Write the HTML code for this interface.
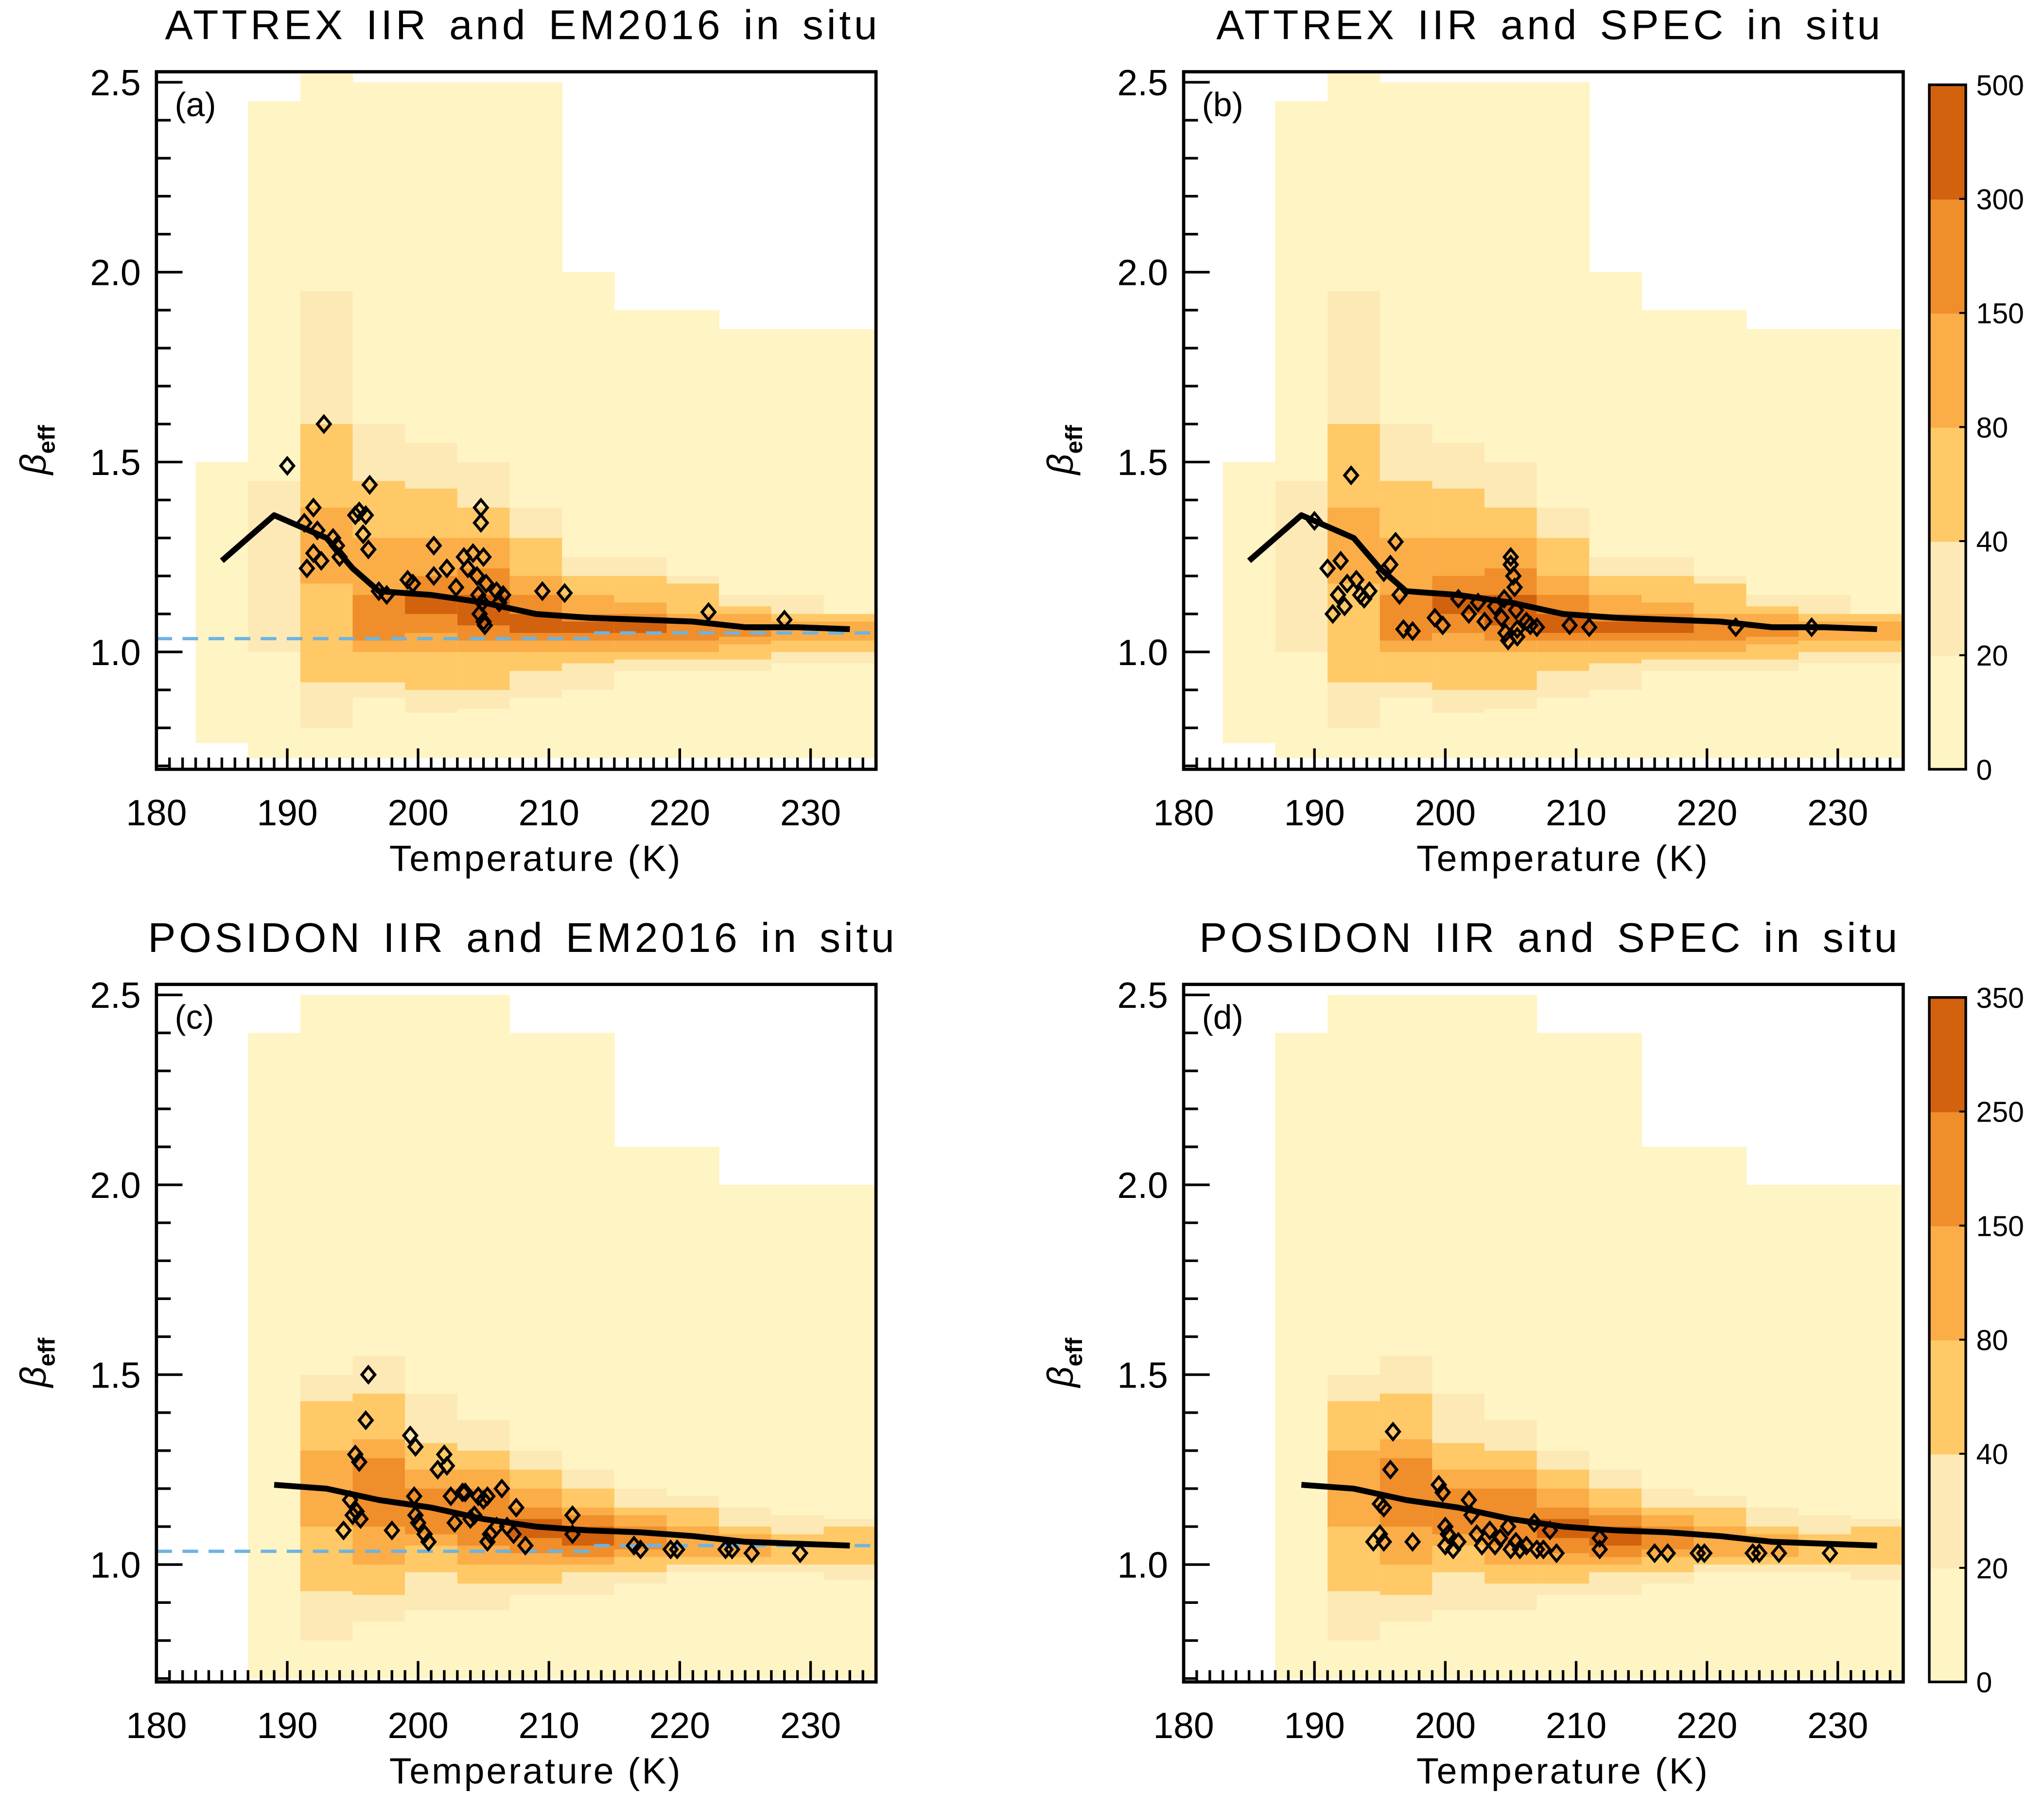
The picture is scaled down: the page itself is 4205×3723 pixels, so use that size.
<!DOCTYPE html>
<html><head><meta charset="utf-8">
<style>
html,body{margin:0;padding:0;background:#fff;}
svg{display:block;font-family:"Liberation Sans",sans-serif;}
</style></head>
<body>
<svg id="fig" xmlns="http://www.w3.org/2000/svg" width="4205" height="3723" viewBox="0 0 1568 1388.2"></svg>
<script>
// ---- data ----
const levelColors = ["#fff4c4","#fde9b6","#fec966","#fbad48","#ef8e2a","#d2620e"];
const binStarts = [183,187,191,195,199,203,207,211,215,219,223,227,231];
const heatA = [
 [[0.76,1.5]],
 [[0.72,2.45],[1.0,1.45]],
 [[0.72,2.53],[0.8,1.95],[0.92,1.6],[1.18,1.38]],
 [[0.72,2.5],[0.88,1.6],[0.92,1.45],[1.0,1.3],[1.03,1.15]],
 [[0.72,2.5],[0.84,1.55],[0.9,1.43],[1.0,1.3],[1.05,1.2],[1.1,1.15]],
 [[0.72,2.5],[0.85,1.5],[0.9,1.38],[1.0,1.3],[1.03,1.22],[1.07,1.15]],
 [[0.72,2.5],[0.88,1.38],[0.95,1.3],[1.0,1.2],[1.03,1.15],[1.05,1.1]],
 [[0.72,2.0],[0.9,1.25],[0.97,1.2],[1.0,1.15],[1.03,1.1],[1.05,1.08]],
 [[0.72,1.9],[0.95,1.25],[0.98,1.2],[1.0,1.13],[1.03,1.1],[1.05,1.08]],
 [[0.72,1.9],[0.95,1.2],[0.98,1.18],[1.0,1.1],[1.03,1.08]],
 [[0.72,1.85],[0.95,1.15],[0.98,1.12],[1.02,1.1],[1.04,1.07]],
 [[0.72,1.85],[0.97,1.15],[1.0,1.1],[1.03,1.08]],
 [[0.72,1.85],[0.97,1.1],[1.0,1.1],[1.03,1.08]]
];
const heatC = [
 [],
 [[0.7,2.4]],
 [[0.7,2.5],[0.8,1.5],[0.93,1.43],[1.1,1.3]],
 [[0.7,2.5],[0.85,1.55],[0.92,1.45],[1.0,1.33],[1.1,1.28]],
 [[0.7,2.5],[0.88,1.45],[0.98,1.32],[1.05,1.25],[1.08,1.2]],
 [[0.7,2.5],[0.88,1.38],[0.95,1.3],[1.0,1.25],[1.05,1.2]],
 [[0.7,2.4],[0.92,1.3],[0.95,1.25],[1.0,1.2],[1.03,1.15],[1.07,1.12]],
 [[0.7,2.4],[0.92,1.25],[0.98,1.2],[1.0,1.15],[1.02,1.13],[1.05,1.1]],
 [[0.7,2.1],[0.95,1.2],[0.98,1.15],[1.02,1.13],[1.04,1.1]],
 [[0.7,2.1],[0.98,1.18],[1.0,1.15],[1.02,1.1]],
 [[0.7,2.0],[0.98,1.15],[1.0,1.1],[1.02,1.08]],
 [[0.7,2.0],[0.98,1.13],[1.0,1.08]],
 [[0.7,2.0],[0.96,1.12],[1.0,1.1]]
];
const lineTop = [[185,1.24],[189,1.36],[191,1.33],[193,1.3],[195,1.22],[197,1.16],[201,1.15],[205,1.13],[209,1.1],[213,1.09],[217,1.085],[221,1.08],[225,1.065],[229,1.065],[233,1.06]];
const lineBot = [[189,1.21],[193,1.2],[197,1.17],[201,1.15],[205,1.12],[209,1.1],[213,1.09],[217,1.085],[221,1.075],[225,1.06],[229,1.055],[233,1.05]];
const dashedRef = [[180,1.035],[213,1.035],[213,1.05],[235,1.05]];
const ptsA = [[190,1.49],[192.8,1.6],[191.3,1.34],[192,1.38],[192.3,1.32],[191.5,1.22],[192,1.26],[192.6,1.24],[193.5,1.3],[193.8,1.28],[194,1.25],[195.2,1.36],[195.5,1.37],[195.8,1.31],[196,1.36],[196.3,1.44],[196.2,1.27],[197,1.16],[197.6,1.15],[199.2,1.19],[199.6,1.18],[201.2,1.28],[201.2,1.2],[202.2,1.22],[202.9,1.17],[203.5,1.25],[203.8,1.22],[204.2,1.26],[204.8,1.38],[204.8,1.34],[205,1.25],[204.5,1.2],[204.6,1.15],[204.7,1.1],[205,1.08],[205.1,1.07],[204.9,1.13],[205.2,1.18],[206,1.16],[206.5,1.15],[206.2,1.13],[209.5,1.16],[211.2,1.155],[222.2,1.105],[228,1.085]];
const ptsB = [[190,1.345],[192.8,1.465],[191,1.22],[191.4,1.1],[191.8,1.15],[192,1.24],[192.3,1.12],[192.5,1.18],[193.2,1.19],[193.5,1.15],[193.8,1.14],[194.2,1.16],[195.3,1.21],[195.8,1.23],[196.2,1.29],[196.5,1.15],[196.8,1.06],[197.5,1.055],[199.2,1.09],[199.8,1.07],[201,1.14],[201.8,1.1],[202.5,1.13],[203,1.08],[203.8,1.12],[204.3,1.09],[204.5,1.14],[204.6,1.05],[204.8,1.03],[205,1.25],[205,1.23],[205.2,1.2],[205.3,1.17],[205.4,1.11],[205.5,1.06],[205.5,1.04],[206.2,1.08],[206.5,1.07],[207,1.065],[209.5,1.07],[211,1.065],[222.2,1.065],[228,1.065]];
const ptsC = [[196.2,1.5],[196,1.38],[195.2,1.29],[195.5,1.27],[194.3,1.09],[194.8,1.17],[195,1.13],[195.3,1.14],[195.6,1.12],[198,1.09],[199.4,1.34],[199.8,1.31],[199.7,1.18],[199.8,1.13],[200,1.11],[200.5,1.08],[200.8,1.06],[201.5,1.25],[202,1.29],[202.2,1.26],[202.5,1.18],[202.8,1.11],[203.4,1.19],[203.6,1.19],[204,1.12],[204.3,1.13],[204.6,1.18],[205,1.17],[205.3,1.18],[205.5,1.08],[205.3,1.06],[206,1.1],[206.4,1.2],[206.8,1.1],[207.3,1.08],[207.5,1.15],[208.2,1.05],[211.8,1.13],[211.8,1.08],[216.5,1.05],[217,1.04],[219.3,1.04],[219.8,1.04],[223.5,1.04],[224,1.04],[225.5,1.03],[229.2,1.03]];
const ptsD = [[196,1.35],[195.8,1.25],[195,1.16],[195.3,1.15],[194.5,1.06],[195,1.08],[195.3,1.06],[197.5,1.06],[199.5,1.21],[199.8,1.19],[200,1.1],[200.2,1.08],[200,1.05],[200.6,1.04],[201,1.06],[201.8,1.17],[202,1.13],[202.4,1.08],[202.8,1.05],[203.4,1.09],[203.8,1.05],[204.2,1.07],[204.8,1.1],[205,1.04],[205.4,1.06],[205.7,1.04],[206.2,1.05],[206.8,1.11],[207,1.04],[207.5,1.04],[208,1.09],[208.5,1.03],[211.8,1.07],[211.8,1.04],[216,1.03],[217,1.03],[219.3,1.03],[219.8,1.03],[223.5,1.03],[224,1.03],[225.5,1.03],[229.4,1.03]];
const xTickLabels = [180,190,200,210,220,230];
const yTickLabels = ["1.0","1.5","2.0","2.5"];
const cbLabelsTop = ["0","20","40","80","150","300","500"];
const cbLabelsBot = ["0","20","40","80","150","250","350"];

// ---- drawing ----
const NS="http://www.w3.org/2000/svg";
const svg=document.getElementById('fig');
function mk(tag,attrs,parent){const e=document.createElementNS(NS,tag);for(const k in attrs)e.setAttribute(k,attrs[k]);(parent||svg).appendChild(e);return e;}

const panels=[
 {x0:120,y0:55,id:'a',title:'ATTREX IIR and EM2016 in situ',heat:heatA,line:lineTop,pts:ptsA,dash:true},
 {x0:908,y0:55,id:'b',title:'ATTREX IIR and SPEC in situ',heat:heatA,line:lineTop,pts:ptsB,dash:false},
 {x0:120,y0:755,id:'c',title:'POSIDON IIR and EM2016 in situ',heat:heatC,line:lineBot,pts:ptsC,dash:true},
 {x0:908,y0:755,id:'d',title:'POSIDON IIR and SPEC in situ',heat:heatC,line:lineBot,pts:ptsD,dash:false}
];
const W=552,H=535;
panels.forEach(p=>{
 const g=mk('g',{});
 
 
 const xs=t=>p.x0+(t-180)*W/55;
 const yb=p.y0+445;
 const ys=v=>yb-(v-1)*291.3;
 const clipId='clip'+p.id;
 const cp=mk('clipPath',{id:clipId},g);mk('rect',{x:p.x0,y:p.y0,width:W,height:H},cp);
 const hg=mk('g',{'clip-path':'url(#'+clipId+')'},g);
 
 
 p.heat.forEach((col,i)=>{
  col.forEach((b,l)=>{
   const r=mk('rect',{x:xs(binStarts[i]),y:ys(b[1]),width:xs(binStarts[i]+4)-xs(binStarts[i])+0.3,height:ys(b[0])-ys(b[1]),fill:levelColors[l]},hg);
   
   
  });
 });
 if(p.dash){
  const d=mk('polyline',{points:dashedRef.map(q=>xs(q[0])+','+ys(q[1])).join(' '),fill:'none',stroke:'#6fb3e0','stroke-width':2.5,'stroke-dasharray':'12,8'},g);
  
  
 }
 const ln=mk('polyline',{points:p.line.map(q=>xs(q[0])+','+ys(q[1])).join(' '),fill:'none',stroke:'#000','stroke-width':4.5,'stroke-linejoin':'round'},g);
 
 
 p.pts.forEach(q=>{
  const cx=xs(q[0]),cy=ys(q[1]);
  const dm=mk('polygon',{points:`${cx},${cy-6} ${cx+5},${cy} ${cx},${cy+6} ${cx-5},${cy}`,fill:'none',stroke:'#000','stroke-width':2.2},g);
  
  
 });
 const fr=mk('rect',{x:p.x0,y:p.y0,width:W,height:H,fill:'none',stroke:'#000','stroke-width':2.5},g);
 
 
 for(let t=181;t<235;t++){
  const major=(t%10===0);
  mk('line',{x1:xs(t),x2:xs(t),y1:p.y0+H,y2:p.y0+H-(major?16:9),stroke:'#000','stroke-width':2},g);
 }
 xTickLabels.forEach(t=>{
  const tx=mk('text',{x:xs(t),y:p.y0+H+43,'text-anchor':'middle','font-size':28},g);tx.textContent=t;
  
  
 });
 for(let k=7;k<=25;k++){
  const v=k/10,major=(k%5===0);
  mk('line',{x1:p.x0,x2:p.x0+(major?20:11),y1:ys(v),y2:ys(v),stroke:'#000','stroke-width':2},g);
 }
 yTickLabels.forEach(s=>{
  const tx=mk('text',{x:p.x0-12,y:ys(parseFloat(s))+10,'text-anchor':'end','font-size':28},g);tx.textContent=s;
  
  
 });
 const xl=mk('text',{x:p.x0+W/2+15,y:p.y0+H+78,'text-anchor':'middle','font-size':28,'letter-spacing':'1.5'},g);xl.textContent='Temperature (K)';
 
 
 const yl=mk('text',{transform:`translate(${p.x0-85},${p.y0+290}) rotate(-90)`,'text-anchor':'middle','font-size':28,'font-style':'italic'},g);
 yl.innerHTML='β<tspan font-size="18" font-style="normal" font-weight="bold" dy="7">eff</tspan>';
 
 
 const tt=mk('text',{x:p.x0+W/2+5,y:p.y0-25,'text-anchor':'middle','font-size':32,'letter-spacing':'2.5','word-spacing':'4'},g);tt.textContent=p.title;
 
 
 const pl=mk('text',{x:p.x0+14,y:p.y0+34,'font-size':26},g);pl.textContent='('+p.id+')';
 
 
});
[[65,cbLabelsTop],[765,cbLabelsBot]].forEach(([y0,labs],ci)=>{
 const g=mk('g',{});
 
 
 const h=525,seg=h/6,x0=1480,w=28;
 levelColors.forEach((c,i)=>{
  mk('rect',{x:x0,y:y0+h-(i+1)*seg,width:w,height:seg+0.5,fill:c},g);
 });
 mk('rect',{x:x0,y:y0,width:w,height:h,fill:'none',stroke:'#000','stroke-width':2},g);
 labs.forEach((s,i)=>{
  const yy=y0+h-i*seg;
  mk('line',{x1:x0+w-5,x2:x0+w,y1:yy,y2:yy,stroke:'#000','stroke-width':1.5},g);
  const tx=mk('text',{x:x0+w+8,y:yy+8,'font-size':22},g);tx.textContent=s;
  
  
 });
});
</script>
</body></html>
